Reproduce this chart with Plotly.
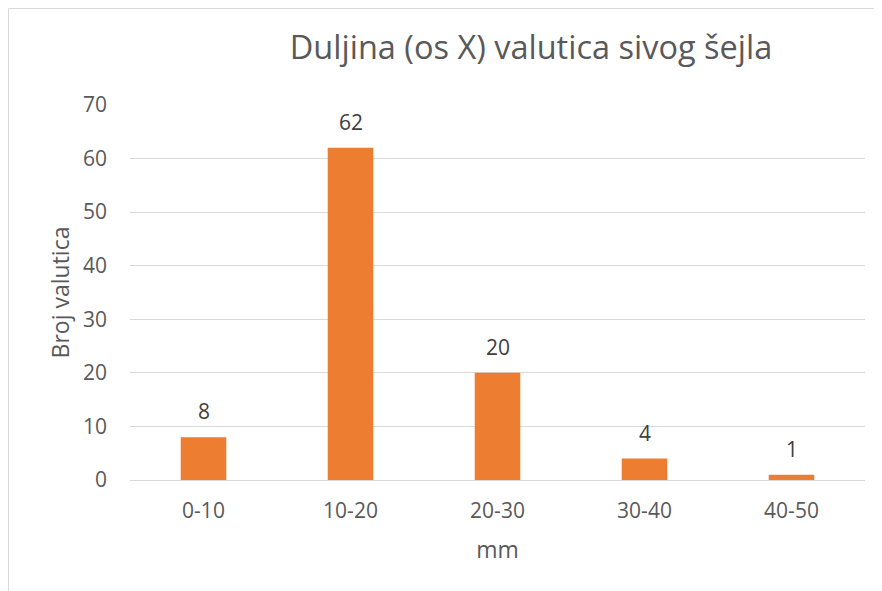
import plotly.graph_objects as go

categories = ["0-10", "10-20", "20-30", "30-40", "40-50"]
counts = [8, 62, 20, 4, 1]
y_ticks = [0, 10, 20, 30, 40, 50, 60, 70]

# page has an 8px body margin, so figure coords = screenshot coords - 8
W, H = 882, 591
L, R, T, B = 122, 25, 97, 119
pw, ph = W - L - R, H - T - B

def px(x):
    return (x - L) / pw

def py(y):
    return (H - B - y) / ph

FONT = "Open Sans"
GREY = "#595959"

fig = go.Figure(go.Bar(
    x=categories, y=counts,
    marker=dict(color="#ED7D31", line=dict(width=0)),
    width=0.31,
    hoverinfo="x+y",
))

for c, v in zip(categories, counts):
    fig.add_annotation(x=c, y=v, text=str(v), showarrow=False,
                       yanchor="middle", yshift=26,
                       font=dict(family=FONT, size=21, color="#404040"))

fig.update_layout(
    width=W, height=H,
    margin=dict(l=L, r=R, t=T, b=B),
    paper_bgcolor="white", plot_bgcolor="white",
    showlegend=False,
    font=dict(family=FONT, color=GREY),
    title=dict(text="Duljina (os X) valutica sivog šejla",
               x=px(523), xanchor="center", xref="paper",
               y=1 - 40 / H, yanchor="middle",
               font=dict(family=FONT, size=32.5, color=GREY)),
    xaxis=dict(showgrid=False, showline=False, ticks="", ticklabelstandoff=16,
               tickfont=dict(family=FONT, size=21, color=GREY),
               title=dict(text="mm", font=dict(family=FONT, size=23, color=GREY), standoff=18)),
    yaxis=dict(range=[0, 70], tickvals=y_ticks, showgrid=True, gridcolor="#D9D9D9", gridwidth=1,
               zeroline=True, zerolinecolor="#D9D9D9", zerolinewidth=1,
               showline=False, ticks="", ticklabelstandoff=22,
               tickfont=dict(family=FONT, size=21, color=GREY),
               title=dict(text="Broj valutica", font=dict(family=FONT, size=23, color=GREY), standoff=6)),
    shapes=[
        dict(type="line", xref="paper", yref="paper", x0=px(0.5), x1=px(0.5), y0=py(0.5), y1=py(600),
             line=dict(color="#D9D9D9", width=1)),
        dict(type="line", xref="paper", yref="paper", x0=px(0.5), x1=px(890), y0=py(0.5), y1=py(0.5),
             line=dict(color="#D9D9D9", width=1)),
    ],
)

fig.write_html("out.html")
